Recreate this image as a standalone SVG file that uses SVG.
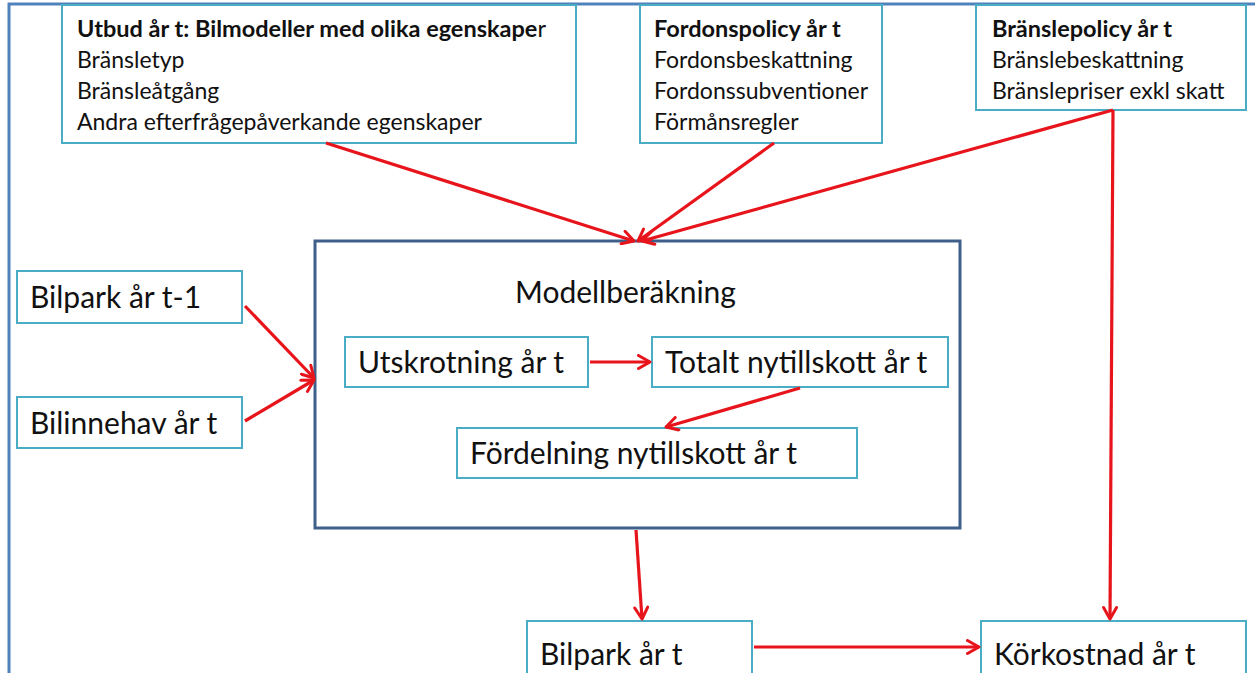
<svg xmlns="http://www.w3.org/2000/svg" width="1255" height="673" viewBox="0 0 1255 673">
  <defs>
    <marker id="arrow" viewBox="0 0 16 16" refX="13.5" refY="8" markerWidth="16" markerHeight="16" markerUnits="userSpaceOnUse" orient="auto">
      <path d="M2,1.5 L13.5,8 L2,14.5" fill="none" stroke="#e8141b" stroke-width="3" stroke-linecap="round" stroke-linejoin="round"/>
    </marker>
    <style>
      .frame { fill: none; stroke: #4f81bd; stroke-width: 3; }
      .box { fill: #ffffff; stroke: #4bacc6; stroke-width: 2; }
      .main { fill: #ffffff; stroke: #3f5f8a; stroke-width: 3; }
      .t { font-family: Lato, "Liberation Sans", sans-serif; fill: #111111; }
      .s { font-size: 23px; }
      .sb { font-size: 23.5px; font-weight: bold; }
      .m { font-size: 30px; }
      .edge { fill: none; stroke: #e8141b; stroke-width: 3.2; marker-end: url(#arrow); }
    </style>
  </defs>
  <rect width="1255" height="673" fill="#ffffff"/>
  <!-- outer frame, continues past the right and bottom edges -->
  <path class="frame" d="M9,680 V4 H1260"/>

  <g id="utbud">
    <rect class="box" x="62" y="5" width="514" height="138"/>
    <text class="t sb" x="77" y="37">Utbud år t: Bilmodeller med olika egenskape<tspan font-weight="normal">r</tspan></text>
    <text class="t s" x="77" y="68">Bränsletyp</text>
    <text class="t s" x="77" y="99">Bränsleåtgång</text>
    <text class="t s" x="77" y="130">Andra efterfrågepåverkande egenskaper</text>
  </g>

  <g id="fordonspolicy">
    <rect class="box" x="640" y="5" width="242" height="138"/>
    <text class="t sb" x="654" y="37">Fordonspolicy år t</text>
    <text class="t s" x="654" y="68">Fordonsbeskattning</text>
    <text class="t s" x="654" y="99">Fordonssubventioner</text>
    <text class="t s" x="654" y="130">Förmånsregler</text>
  </g>

  <g id="branslepolicy">
    <rect class="box" x="976" y="5" width="270" height="105"/>
    <text class="t sb" x="992" y="37">Bränslepolicy år t</text>
    <text class="t s" x="992" y="68">Bränslebeskattning</text>
    <text class="t s" x="992" y="99">Bränslepriser exkl skatt</text>
  </g>

  <g id="modellberakning">
    <rect class="main" x="315" y="241" width="645" height="287"/>
    <text class="t m" x="515" y="303">Modellberäkning</text>
  </g>

  <g id="utskrotning">
    <rect class="box" x="345" y="337" width="243" height="50"/>
    <text class="t m" x="358" y="373">Utskrotning år t</text>
  </g>

  <g id="totalt">
    <rect class="box" x="652" y="337" width="296" height="50"/>
    <text class="t m" x="665" y="373">Totalt nytillskott år t</text>
  </g>

  <g id="fordelning">
    <rect class="box" x="457" y="428" width="400" height="50"/>
    <text class="t m" x="470" y="464">Fördelning nytillskott år t</text>
  </g>

  <g id="bilpark-t1">
    <rect class="box" x="17" y="271" width="225" height="52"/>
    <text class="t m" x="30" y="308">Bilpark år t-1</text>
  </g>

  <g id="bilinnehav">
    <rect class="box" x="17" y="397" width="225" height="51"/>
    <text class="t m" x="30" y="434">Bilinnehav år t</text>
  </g>

  <g id="bilpark-t">
    <rect class="box" x="527" y="621" width="225" height="60"/>
    <text class="t m" x="540" y="665">Bilpark år t</text>
  </g>

  <g id="korkostnad">
    <rect class="box" x="981" y="621" width="265" height="60"/>
    <text class="t m" x="994" y="665">Körkostnad år t</text>
  </g>

  <g id="connectors">
    <line class="edge" x1="326" y1="143" x2="634" y2="241"/>
    <line class="edge" x1="774" y1="143" x2="638" y2="241"/>
    <line class="edge" x1="1113" y1="110" x2="642" y2="241"/>
    <line class="edge" x1="1113" y1="110" x2="1110" y2="619"/>
    <line class="edge" x1="245" y1="306" x2="314" y2="378"/>
    <line class="edge" x1="245" y1="421" x2="314" y2="380"/>
    <line class="edge" x1="590" y1="362" x2="650" y2="362"/>
    <line class="edge" x1="800" y1="388" x2="666" y2="427"/>
    <line class="edge" x1="636" y1="530" x2="642" y2="619"/>
    <line class="edge" x1="754" y1="647" x2="979" y2="647"/>
  </g>
</svg>
